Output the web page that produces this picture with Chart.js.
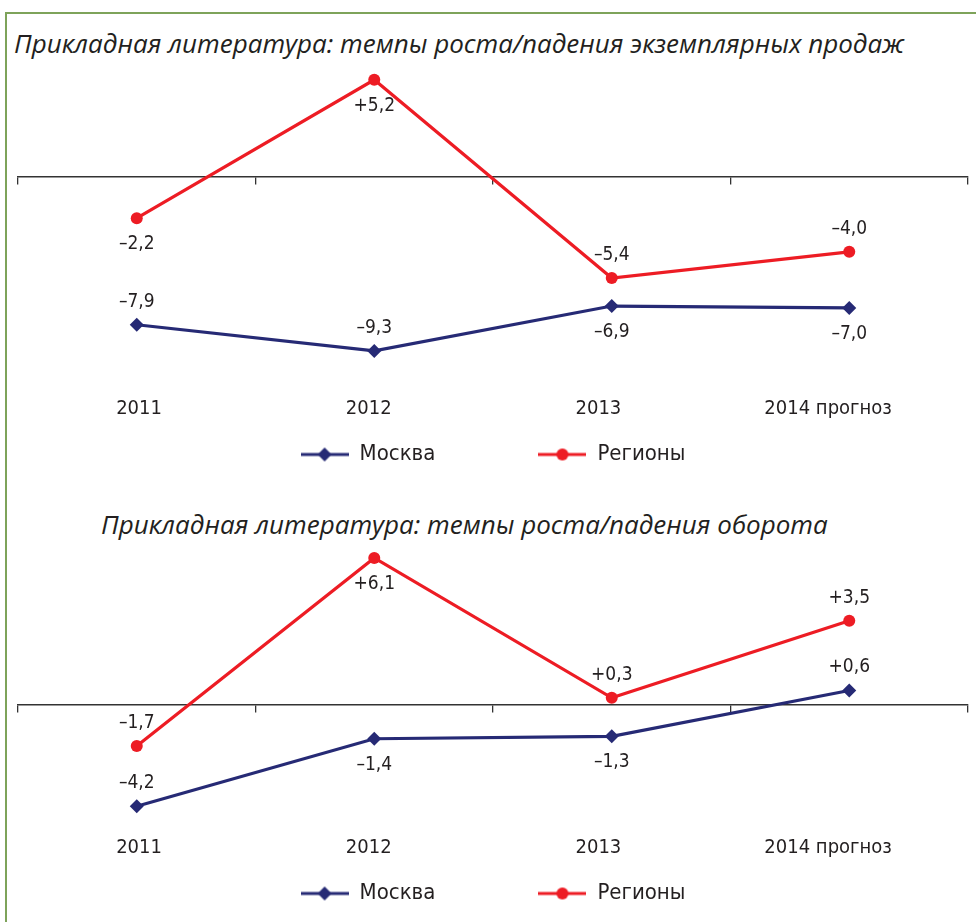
<!DOCTYPE html>
<html>
<head>
<meta charset="utf-8">
<script src="https://cdn.jsdelivr.net/npm/chart.js"></script>
<style>
  html, body { margin: 0; padding: 0; background: #fff; }
  #page { position: relative; width: 976px; height: 922px; overflow: hidden; }
  #frame { position: absolute; left: 5px; top: 12px; width: 990px; height: 940px;
           border-left: 2px solid #7ea35a; border-top: 2px solid #7ea35a; }
  .title { position: absolute; font-family: "Open Sans", sans-serif; font-style: italic;
           font-size: 26px; line-height: 30px; color: #231f20; white-space: nowrap; }
  canvas { position: absolute; left: 0; }
</style>
</head>
<body>
<div id="page">
  <div id="frame"></div>
  <div class="title" id="t1" style="left:14px; top:28px;"></div>
  <div class="title" id="t2" style="left:101px; top:509px;"></div>
  <canvas id="c1" width="976" height="480" style="top:0;"></canvas>
  <canvas id="c2" width="976" height="442" style="top:480px;"></canvas>
</div>
<script>
// ---------- Dados ----------
const categories = ["2011", "2012", "2013", "2014 прогноз"];
const seriesNames = ["Москва", "Регионы"];
const titles = [
  "Прикладная литература: темпы роста/падения экземплярных продаж",
  "Прикладная литература: темпы роста/падения оборота"
];
const salesMoscow = [-7.9, -9.3, -6.9, -7.0];
const salesRegions = [-2.2, 5.2, -5.4, -4.0];
const turnoverMoscow = [-4.2, -1.4, -1.3, 0.6];
const turnoverRegions = [-1.7, 6.1, 0.3, 3.5];

// onde fica o rótulo de cada ponto (acima / abaixo)
const salesPlace = [["up", "up", "down", "down"], ["down", "down", "up", "up"]];
const turnoverPlace = [["up", "down", "down", "up"], ["up", "down", "up", "up"]];

// ---------- Estilo ----------
const NARROW = '"Liberation Sans Narrow", "DejaVu Sans Condensed", sans-serif';
const INK = "#231f20";
const BLUE = "#262a75";
const RED = "#ed1c24";

document.getElementById("t1").textContent = titles[0];
document.getElementById("t2").textContent = titles[1];

function fmt(v) {
  const s = Math.abs(v).toFixed(1).replace(".", ",");
  if (v > 0) return "+" + s;
  if (v < 0) return "\u2013" + s;
  return s;
}

function legendIcon(color, style) {
  const c = document.createElement("canvas");
  c.width = 48; c.height = 16;
  const g = c.getContext("2d");
  g.strokeStyle = color; g.fillStyle = color; g.lineWidth = 3;
  g.beginPath(); g.moveTo(0, 8); g.lineTo(48, 8); g.stroke();
  g.beginPath();
  if (style === "circle") {
    g.arc(24, 8, 6, 0, Math.PI * 2);
  } else {
    g.moveTo(24, 1); g.lineTo(31, 8); g.lineTo(24, 15); g.lineTo(17, 8); g.closePath();
  }
  g.fill();
  return c;
}
const blankIcon = document.createElement("canvas");
blankIcon.width = 48; blankIcon.height = 16;
const icons = [legendIcon(BLUE, "rect"), legendIcon(RED, "circle")];

// rótulos de valor
const valueLabels = {
  id: "valueLabels",
  afterDatasetsDraw(chart, args, opts) {
    const ctx = chart.ctx;
    ctx.save();
    ctx.font = "19px " + NARROW;
    ctx.fillStyle = INK;
    ctx.textAlign = "center";
    ctx.textBaseline = "middle";
    chart.data.datasets.forEach((ds, di) => {
      const meta = chart.getDatasetMeta(di);
      meta.data.forEach((pt, i) => {
        const up = opts.place[di][i] === "up";
        ctx.fillText(fmt(ds.data[i]), pt.x, pt.y + (up ? -23 : 26));
      });
    });
    ctx.restore();
  }
};

function makeChart(id, moscow, regions, place, padBottom) {
  return new Chart(document.getElementById(id), {
    type: "line",
    data: {
      labels: categories,
      datasets: [
        {
          label: seriesNames[0], data: moscow, xAxisID: "x",
          borderColor: BLUE, backgroundColor: BLUE, borderWidth: 3.2,
          pointStyle: "rectRot", pointRadius: 7, pointBorderWidth: 0,
          tension: 0, clip: false
        },
        {
          label: seriesNames[1], data: regions, xAxisID: "x",
          borderColor: RED, backgroundColor: RED, borderWidth: 3.2,
          pointStyle: "circle", pointRadius: 6, pointBorderWidth: 0,
          tension: 0, clip: false
        }
      ]
    },
    options: {
      responsive: false,
      animation: false,
      layout: { padding: { left: 18, right: 8, top: 40, bottom: padBottom } },
      scales: {
        y: { display: false, min: -10, max: 10 },
        x: {
          type: "category",
          position: { y: 0 },
          offset: true,
          grid: { display: true, drawOnChartArea: false, drawTicks: true, tickLength: 7,
                  color: "#333", lineWidth: 1.3, offset: true },
          border: { display: true, color: "#333", width: 1.5 },
          ticks: { display: false }
        },
        x2: {
          type: "linear",
          position: "bottom",
          min: -0.527, max: 3.609,
          afterBuildTicks: (axis) => { axis.ticks = categories.map((c, i) => ({ value: i })); },
          grid: { display: false, drawTicks: false },
          border: { display: false },
          ticks: {
            padding: 2,
            color: INK,
            font: { family: NARROW, size: 20, lineHeight: 1.1 },
            maxRotation: 0,
            callback: (v) => categories[v]
          }
        }
      },
      plugins: {
        tooltip: { enabled: false },
        valueLabels: { place: place },
        legend: {
          position: "bottom",
          onClick: null,
          labels: {
            usePointStyle: true,
            pointStyleWidth: 48,
            padding: 22,
            color: INK,
            font: { family: NARROW, size: 22 },
            generateLabels: () => [
              { text: seriesNames[0], pointStyle: icons[0], fillStyle: BLUE, strokeStyle: BLUE, fontColor: INK, lineWidth: 0, hidden: false, datasetIndex: 0 },
              { text: "", pointStyle: blankIcon, fillStyle: "rgba(0,0,0,0)", strokeStyle: "rgba(0,0,0,0)", fontColor: INK, lineWidth: 0, hidden: false },
              { text: seriesNames[1], pointStyle: icons[1], fillStyle: RED, strokeStyle: RED, fontColor: INK, lineWidth: 0, hidden: false, datasetIndex: 1 }
            ]
          }
        }
      }
    },
    plugins: [valueLabels]
  });
}

// ajusta a escala Y para que o zero caia na linha do eixo e a escala tenha px/unidade fixos
function fitY(chart, zeroPx, pxPerUnit) {
  const a = chart.chartArea;
  chart.options.scales.y.min = -(a.bottom - zeroPx) / pxPerUnit;
  chart.options.scales.y.max = (zeroPx - a.top) / pxPerUnit;
  chart.update();
}

const chart1 = makeChart("c1", salesMoscow, salesRegions, salesPlace, 4.5);
const chart2 = makeChart("c2", turnoverMoscow, turnoverRegions, turnoverPlace, 7.5);
fitY(chart1, 177, 18.7);
fitY(chart2, 225, 24.1);
</script>
</body>
</html>
